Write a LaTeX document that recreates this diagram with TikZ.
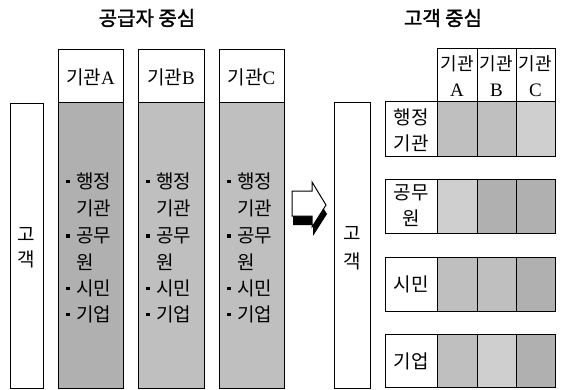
\documentclass[tikz,border=0pt]{standalone}
\usepackage{fontspec}
\setmainfont{Liberation Serif}
\newfontfamily\kr{Noto Sans CJK KR}
\newfontfamily\krb[FakeBold=1.5]{Noto Sans CJK KR}
\newcommand{\bul}{\makebox[10pt][l]{\raisebox{5pt}{\rule{3.5pt}{3.5pt}}}}
\newcommand{\nobul}{\makebox[10pt][l]{}}
\begin{document}
\begin{tikzpicture}[x=1pt,y=-1pt,
  box/.style={draw=black,line width=0.9pt},
  lab/.style={font=\kr\fontsize{19}{20}\selectfont, inner sep=0pt},
  ttl/.style={font=\krb\fontsize{20}{22}\selectfont, inner sep=0pt},
  lt/.style={fill=black!19},
  md/.style={fill=black!25},
  dk/.style={fill=black!31}]
\useasboundingbox (0,0) rectangle (561,390);

% titles
\node[ttl] (t1) at (147,18) {공급자 중심};
\node[ttl] (t2) at (443,18) {고객 중심};

% left customer box
\draw[box] (10,103) rectangle (43,388);
\node[lab] (lgo) at (26.5,235) {고};
\node[lab] (lgaek) at (26.5,259) {객};

% provider columns
\foreach \n/\xl/\xr/\sh in {A/58/123/dk, B/138/204/md, C/219/284/md}{
  \draw[box,\sh] (\xl,102) rectangle (\xr,388);
  \draw[box,fill=white] (\xl,49) rectangle (\xr,102);
  \node[lab] (h\n) at ({(\xl+\xr)/2},77) {기관{\rmfamily\fontsize{19}{20}\selectfont\n}};
  \foreach \i/\b/\t/\yy in {1/\bul/행정/181, 2/\nobul/기관/208, 3/\bul/공무/236, 4/\nobul/원/262, 5/\bul/시민/288, 6/\bul/기업/314}{
    \node[lab,anchor=west] (c\n\i) at (\xl+8,\yy) {\b\t};
  }
}

% arrow (3D block arrow)
\fill[black,line join=miter] (293,200) -- (313,200) -- (313,191) -- (327,214) -- (313,236) -- (313,225) -- (293,225) -- cycle;
\draw[line width=1pt,fill=white,line join=miter] (292,191) -- (312,191) -- (312,182) -- (326,205) -- (312,227) -- (312,216) -- (292,216) -- cycle;

% right customer box
\draw[box] (334,102) rectangle (370,388);
\node[lab] (rgo) at (352,234) {고};
\node[lab] (rgaek) at (352,261) {객};

% header cells
\foreach \n/\xl/\xr in {A/437/477, B/477/516, C/516/555}{
  \draw[box] (\xl,48) rectangle (\xr,101);
  \node[lab,font=\kr\fontsize{18}{20}\selectfont] (rh\n) at ({(\xl+\xr)/2},64) {기관};
  \node[font=\rmfamily\fontsize{19}{20}\selectfont,inner sep=0pt] (rl\n) at ({(\xl+\xr)/2},90) {\n};
}

% rows
\foreach \r/\yt/\yb/\sa/\sb/\sc in {1/101/156/md/md/lt, 2/179/233/lt/dk/dk, 3/257/311/md/md/dk, 4/334/387/md/lt/dk}{
  \draw[box,\sa] (437,\yt) rectangle (477,\yb);
  \draw[box,\sb] (477,\yt) rectangle (516,\yb);
  \draw[box,\sc] (516,\yt) rectangle (555,\yb);
  \draw[box] (385,\yt) rectangle (437,\yb);
}
\node[lab] (r1a) at (411,117) {행정};
\node[lab] (r1b) at (411,143) {기관};
\node[lab] (r2a) at (411,193) {공무};
\node[lab] (r2b) at (411,218) {원};
\node[lab] (r3) at (411,284) {시민};
\node[lab] (r4) at (411,361) {기업};
\end{tikzpicture}
\end{document}
